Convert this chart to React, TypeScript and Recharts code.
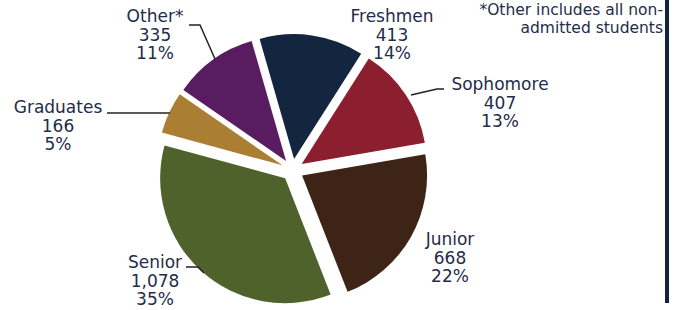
import { Cell, Pie, PieChart } from 'recharts';

// enrollment by class standing
const categories = ['Freshmen', 'Sophomore', 'Junior', 'Senior', 'Graduates', 'Other*'];
const counts = [413, 407, 668, 1078, 166, 335];
const countLabels = ['413', '407', '668', '1,078', '166', '335'];
const percentLabels = ['14%', '13%', '22%', '35%', '5%', '11%'];
const colors = ['#142540', '#8b1f2f', '#3d2416', '#50622b', '#aa7f34', '#5a1c61'];

const rows = categories.map((name, i) => ({ name, value: counts[i] }));
const total = counts.reduce((a, b) => a + b, 0);

const CX = 292.5;
const CY = 170;
const RADIUS = 125;
const EXPLODE = 11;
const START = 106;
const END = START - 360;
const TEXT = '#1f2c4a';
const FONT = '"DejaVu Sans", sans-serif';

// where each label sits: center x, first baseline, and its leader line
const labelLayout: Record<string, { x: number; y: number; line?: string }> = {
  Freshmen: { x: 392, y: 22 },
  Sophomore: { x: 500, y: 90, line: '444,89 437,89 411,95' },
  Junior: { x: 450, y: 245 },
  Senior: { x: 155, y: 268, line: '186,267 198,267 204,273' },
  Graduates: { x: 58, y: 113, line: '107,113 170,113' },
  'Other*': { x: 155, y: 22, line: '189,25 200,25 215,59' },
};

function offsetFor(i: number) {
  const before = counts.slice(0, i).reduce((a, b) => a + b, 0);
  const mid = START - (360 * (before + counts[i] / 2)) / total;
  const rad = (mid * Math.PI) / 180;
  return { dx: EXPLODE * Math.cos(rad), dy: -EXPLODE * Math.sin(rad) };
}

function makeLabel(i: number) {
  return (props: any) => {
    if (props.index !== i) return null;
    const name = categories[i];
    const pos = labelLayout[name];
    return (
      <g>
        {pos.line && <polyline points={pos.line} fill="none" stroke="#222" strokeWidth={1.5} />}
        <text x={pos.x} y={pos.y} textAnchor="middle" fill={TEXT} fontSize={17} fontFamily={FONT}>
          <tspan x={pos.x} y={pos.y}>{name}</tspan>
          <tspan x={pos.x} y={pos.y + 18.5}>{countLabels[i]}</tspan>
          <tspan x={pos.x} y={pos.y + 37}>{percentLabels[i]}</tspan>
        </text>
      </g>
    );
  };
}

export default function App() {
  return (
    <div style={{ position: 'absolute', left: 0, top: 0, width: 680, height: 310, background: '#fff' }}>
      <PieChart width={680} height={310} margin={{ top: 0, right: 0, bottom: 0, left: 0 }}>
        {categories.map((name, i) => {
          const { dx, dy } = offsetFor(i);
          return (
            <Pie
              key={name}
              data={rows}
              dataKey="value"
              nameKey="name"
              cx={CX + dx}
              cy={CY + dy}
              outerRadius={RADIUS}
              startAngle={START}
              endAngle={END}
              stroke="none"
              isAnimationActive={false}
              label={makeLabel(i)}
              labelLine={false}
            >
              {rows.map((r, j) => (
                <Cell key={r.name} fill={j === i ? colors[i] : 'none'} />
              ))}
            </Pie>
          );
        })}
      </PieChart>
      <div
        style={{
          position: 'absolute',
          right: 17,
          top: 1,
          textAlign: 'right',
          fontFamily: FONT,
          fontSize: 15.5,
          lineHeight: '18px',
          color: TEXT,
        }}
      >
        *Other includes all non-
        <br />
        admitted students
      </div>
      <div style={{ position: 'absolute', left: 665, top: 0, width: 4, height: 303, background: '#14233d' }} />
    </div>
  );
}
